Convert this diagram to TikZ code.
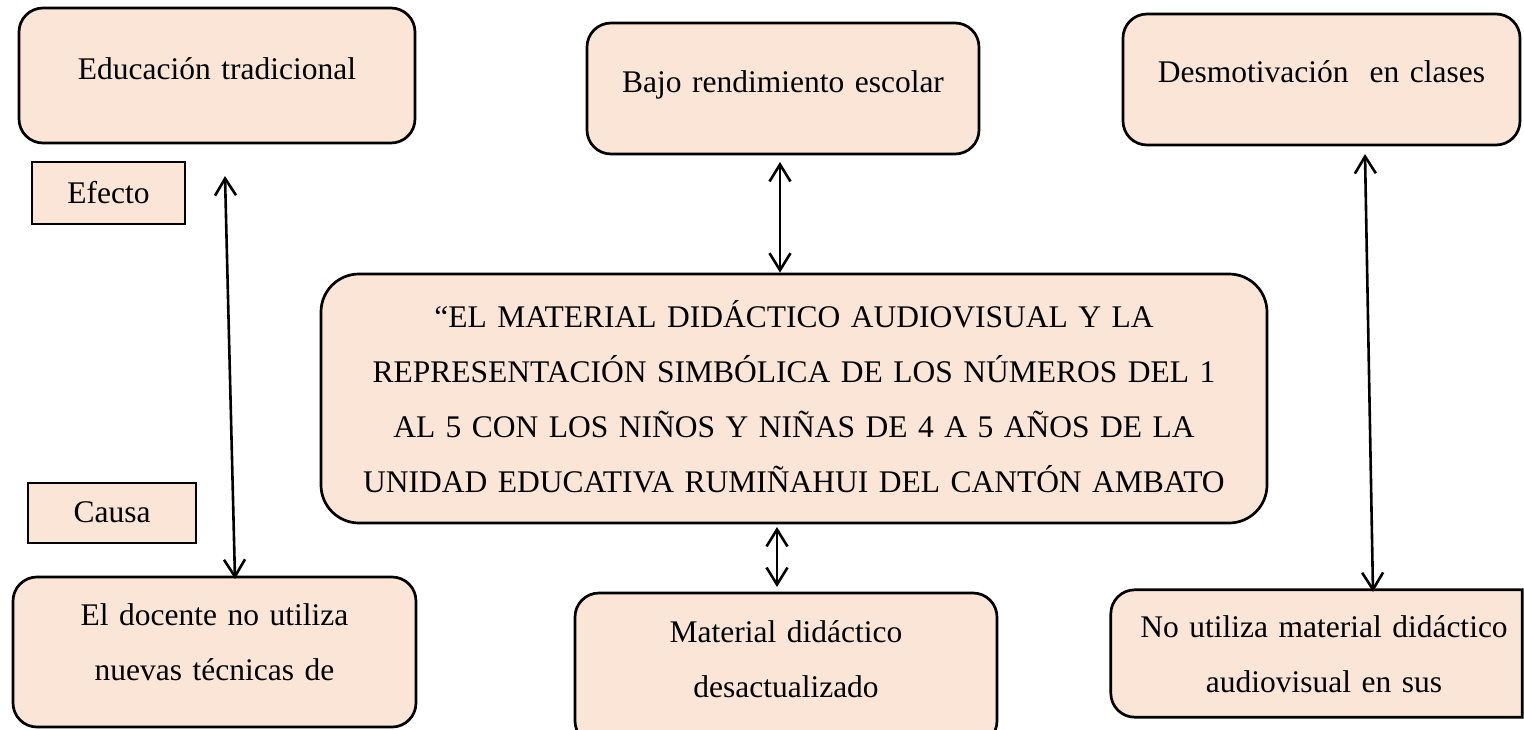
\documentclass[tikz,border=0pt]{standalone}
\usepackage{fontspec}
\setmainfont{Liberation Serif}
\usetikzlibrary{arrows.meta}
\definecolor{boxfill}{HTML}{FBE5D6}
\begin{document}
\begin{tikzpicture}[x=1pt,y=-1pt,
  rbox/.style={draw=black, fill=boxfill, line width=2.7pt, rounded corners=24pt, inner sep=0pt},
  sbox/.style={draw=black, fill=boxfill, line width=2.7pt, inner sep=0pt},
  txt/.style={anchor=base, font=\fontsize{31.5}{55}\selectfont, text width=#1, align=center, inner sep=0pt},
  txt/.default=600pt,
  dbl/.style={line width=2.6pt, {Straight Barb[length=17pt,width=21pt]}-{Straight Barb[length=17pt,width=21pt]}}
]
\clip (0,0) rectangle (1524,729);
\fill[white] (0,0) rectangle (1524,729);

% boxes
\node[rbox, minimum width=396pt, minimum height=135pt] (b1) at (217,75.5) {};
\node[sbox, minimum width=153pt, minimum height=62pt] (ef) at (108.5,193) {};
\node[sbox, minimum width=168pt, minimum height=60pt] (ca) at (112,513) {};
\node[rbox, minimum width=403pt, minimum height=150pt] (b4) at (214.5,652) {};
\node[rbox, minimum width=392pt, minimum height=131pt] (b2) at (783,88.5) {};
\node[rbox, rounded corners=38pt, minimum width=946pt, minimum height=249pt] (ctr) at (794,398.5) {};
\node[rbox, minimum width=422pt, minimum height=152pt] (b5) at (786,669) {};
\node[rbox, minimum width=397pt, minimum height=131pt] (b3) at (1321.5,79.5) {};
\node[inner sep=0pt, minimum width=411pt, minimum height=127pt] (b6) at (1316.5,653.5) {};
\draw[fill=boxfill, line width=2.7pt, rounded corners=24pt]
  (b6.north) -- (b6.north west) -- (b6.south west) -- (b6.south)
  [sharp corners] -- (b6.south east) -- (b6.north east) -- cycle;

% texts
\node[txt] (t1) at (217,79) {Educación tradicional};
\node[txt=150pt] (tef) at (108.5,203) {Efecto};
\node[txt=150pt] (tca) at (112,522) {Causa};
\node[txt] (t4) at (214.5,625) {El docente no utiliza\\nuevas técnicas de};
\node[txt] (t2) at (783,92) {Bajo rendimiento escolar};
\node[txt=950pt] (tc) at (794,327) {“EL MATERIAL DIDÁCTICO AUDIOVISUAL Y LA\\REPRESENTACIÓN SIMBÓLICA DE LOS NÚMEROS DEL 1\\AL 5 CON LOS NIÑOS Y NIÑAS DE 4 A 5 AÑOS DE LA\\UNIDAD EDUCATIVA RUMIÑAHUI DEL CANTÓN AMBATO};
\node[txt] (t5) at (786,642) {Material didáctico\\desactualizado};
\node[txt] (t3) at (1321.5,82) {Desmotivación~ en clases};
\node[txt] (t6) at (1324,637) {No utiliza material didáctico\\audiovisual en sus};

% connectors
\coordinate (a1t) at (225,176);
\coordinate (a1b) at (235,579);
\draw[dbl] (a1t) -- (a1b);
\coordinate (a2t) at (780,162);
\draw[dbl] (a2t) -- (a2t |- ctr.north);
\coordinate (a3t) at (777,527);
\coordinate (a3b) at (777,587);
\draw[dbl] (a3t) -- (a3b);
\coordinate (a4t) at (1365,154);
\coordinate (a4b) at (1373,592);
\draw[dbl] (a4t) -- (a4b);
\end{tikzpicture}
\end{document}
